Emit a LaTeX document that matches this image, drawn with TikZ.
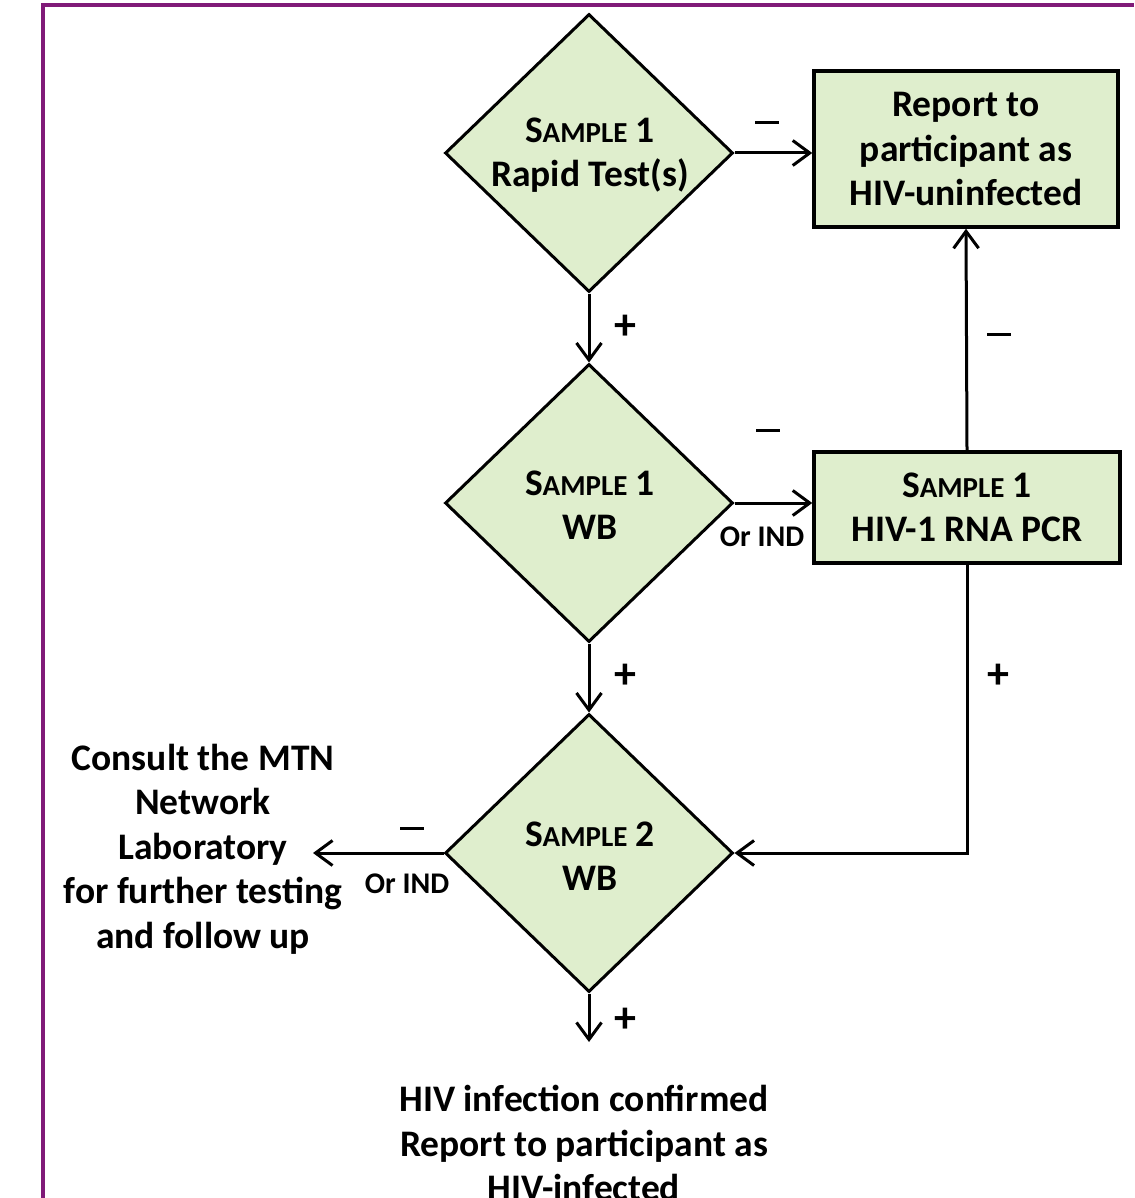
\documentclass[tikz,border=0pt]{standalone}
\usepackage{fontspec}
\setmainfont{Carlito}[UprightFont={Carlito Bold},BoldFont={Carlito Bold}]
\usetikzlibrary{shapes.geometric,arrows.meta}
\definecolor{boxfill}{RGB}{223,238,205}
\definecolor{framepurple}{RGB}{128,26,120}
\newcommand\smplcap[1]{S{\fontsize{29}{45}\selectfont AMPLE} #1}
\newcommand\minusbar{\rule[0pt]{24pt}{3pt}}
\begin{document}
\begin{tikzpicture}[x=1pt,y=-1pt,
  dia/.style={diamond, draw, line width=3pt, fill=boxfill, minimum width=288pt, minimum height=278pt, inner sep=0pt},
  rbox/.style={rectangle, draw, line width=3.5pt, fill=boxfill, align=center, inner sep=0pt, font=\fontsize{37.5}{44.5}\selectfont\bfseries},
  txt/.style={align=center, inner sep=0pt, font=\fontsize{37.5}{44.5}\selectfont\bfseries},
  lbl/.style={inner sep=0pt, font=\fontsize{44}{44}\selectfont\bfseries},
  small/.style={inner sep=0pt, font=\fontsize{30}{36}\selectfont\bfseries},
  arr/.style={-{Straight Barb[length=17pt,width=25pt,line width=3pt]}, line width=3pt}]
\useasboundingbox (0,0) rectangle (1134,1198);
\draw[framepurple, line width=4pt] (43,1198) -- (43,5.5) -- (1134,5.5);

\node[dia] (d1) at (589,153) {};
\node[txt] (t1) at (590,155) {\smplcap{1}\\Rapid Test(s)};
\node[rbox, minimum width=304pt, minimum height=156pt] (b1) at (966,149) {Report to\\participant as\\HIV-uninfected};

\node[dia] (d2) at (589,503) {};
\node[txt] (t2) at (590,505) {\smplcap{1}\\WB};
\node[rbox, minimum width=306pt, minimum height=111pt] (b2) at (967,507.5) {\smplcap{1}\\HIV-1 RNA PCR};

\node[dia] (d3) at (589,853) {};
\node[txt] (t3) at (590,856) {\smplcap{2}\\WB};

\node[txt] (consult) at (203,849) {Consult the MTN\\Network\\Laboratory\\for further testing\\and follow up};
\node[txt] (confirmed) at (584,1143) {HIV infection confirmed\\Report to participant as\\HIV-infected};

\coordinate (lend) at (313,853);
\coordinate (bend) at (589,1042);

\draw[arr] (d1.east) -- (b1.west |- d1.east);
\draw[arr] (d1.south) -- (d2.north);
\draw[arr] (d2.east) -- (b2.west |- d2.east);
\draw[arr] (d2.south) -- (d3.north);
\draw[arr] (b2.north) -- (b1.south);
\draw[arr] (b2.south) -- (b2.south |- d3.east) -- (d3.east);
\draw[arr] (d3.west) -- (lend);
\draw[arr] (d3.south) -- (bend);

\node[lbl] (m1) at (767,123) {\minusbar};
\node[lbl] (p1) at (625,327) {+};
\node[lbl] (m2) at (768,430) {\minusbar};
\node[small] (o1) at (762,537) {Or IND};
\node[lbl] (m3) at (999,334) {\minusbar};
\node[lbl] (p2) at (625,676) {+};
\node[lbl] (p3) at (998,676) {+};
\node[lbl] (m4) at (412,828) {\minusbar};
\node[small] (o2) at (407,884) {Or IND};
\node[lbl] (p4) at (625,1020) {+};
\end{tikzpicture}
\end{document}
